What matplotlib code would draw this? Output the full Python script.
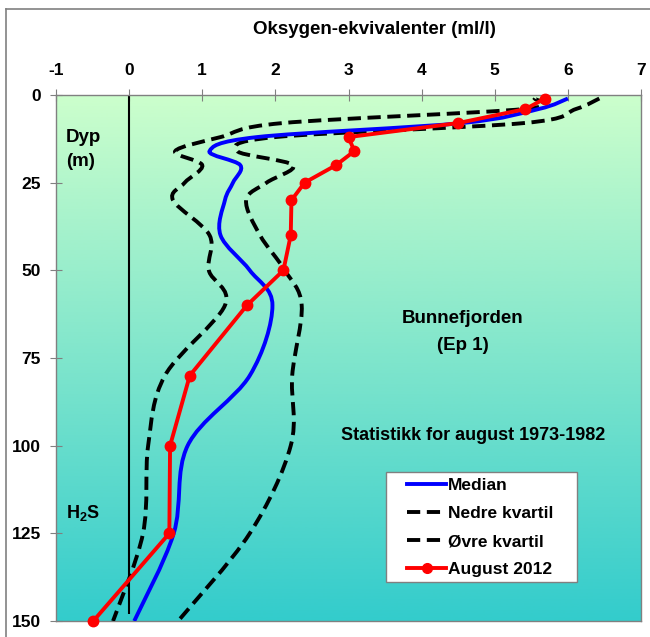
import numpy as np
import matplotlib
matplotlib.use("Agg")
import matplotlib.pyplot as plt
from matplotlib.path import Path
from matplotlib.patches import PathPatch, Rectangle
from matplotlib.lines import Line2D
from matplotlib.colors import LinearSegmentedColormap

plt.rcParams['font.family'] = ['Liberation Sans', 'DejaVu Sans']
plt.rcParams['font.weight'] = 'bold'
plt.rcParams['axes.unicode_minus'] = False
plt.rcParams['mathtext.fontset'] = 'custom'
plt.rcParams['mathtext.rm'] = 'Liberation Sans:bold'
plt.rcParams['mathtext.bf'] = 'Liberation Sans:bold'

# ---------------- data ----------------
depths = [1, 4, 8, 12, 16, 20, 25, 30, 40, 50, 60, 80, 100, 125, 150]
median = [6.00, 5.60, 4.55, 1.75, 1.10, 1.52, 1.42, 1.31, 1.25, 1.65, 1.96, 1.65, 0.80, 0.61, 0.07]
nedre_kvartil = [5.55, 5.40, 2.10, 1.25, 0.63, 1.00, 0.76, 0.60, 1.10, 1.09, 1.31, 0.49, 0.26, 0.19, -0.22]
ovre_kvartil = [6.43, 6.11, 5.40, 2.00, 1.48, 2.24, 1.88, 1.60, 1.79, 2.13, 2.36, 2.23, 2.21, 1.65, 0.67]
aug2012 = [5.69, 5.42, 4.50, 3.00, 3.08, 2.83, 2.40, 2.22, 2.21, 2.11, 1.61, 0.83, 0.56, 0.55, -0.49]

x_ticks = [-1, 0, 1, 2, 3, 4, 5, 6, 7]
y_ticks = [0, 25, 50, 75, 100, 125, 150]
legend_labels = ['Median', 'Nedre kvartil', 'Øvre kvartil', 'August 2012']
title = 'Oksygen-ekvivalenter (ml/l)'


def smooth_path(xs, ys):
    """Catmull-Rom style Bezier path through the given points (Excel-like smoothing)."""
    pts = np.column_stack([xs, ys]).astype(float)
    n = len(pts)
    verts = [pts[0]]
    codes = [Path.MOVETO]
    for i in range(n - 1):
        p0 = pts[i - 1] if i > 0 else pts[i]
        p1 = pts[i]
        p2 = pts[i + 1]
        p3 = pts[i + 2] if i + 2 < n else pts[i + 1]
        c1 = p1 + (p2 - p0) / 6.0
        c2 = p2 - (p3 - p1) / 6.0
        verts += [c1, c2, p2]
        codes += [Path.CURVE4] * 3
    return Path(verts, codes)


W, H = 650, 637
fig = plt.figure(figsize=(W / 100, H / 100), dpi=100)
ax = fig.add_axes([56 / W, 1 - 621 / H, (641 - 56) / W, (621 - 95) / H])

# gradient background
cmap = LinearSegmentedColormap.from_list('bg', ['#CCFFCC', '#33CCCC'])
grad = np.linspace(0, 1, 256).reshape(-1, 1)
ax.imshow(grad, cmap=cmap, aspect='auto', extent=(-1, 7, 150, 0), zorder=0,
          interpolation='bicubic')

ax.set_xlim(-1, 7)
ax.set_ylim(150, 0)

# zero line
ax.vlines(0, 0, 148, color='black', lw=1.5, zorder=2)

lw = 2.8
dash = (0, (3.4, 1.7))
ax.add_patch(PathPatch(smooth_path(nedre_kvartil, depths), fill=False, ec='black',
                       lw=lw, linestyle=dash, zorder=3))
ax.add_patch(PathPatch(smooth_path(ovre_kvartil, depths), fill=False, ec='black',
                       lw=lw, linestyle=dash, zorder=3))
ax.add_patch(PathPatch(smooth_path(median, depths), fill=False, ec='#0000FF',
                       lw=lw, zorder=4))
ax.plot(aug2012, depths, color='#FF0000', lw=lw, marker='o', ms=7.5, zorder=5,
        clip_on=False)

# axes styling
ax.xaxis.tick_top()
ax.set_xticks(x_ticks)
ax.set_yticks(y_ticks)
ax.tick_params(axis='both', direction='inout', length=8, width=0.8, color='#808080',
               labelsize=12.5, pad=7)
ax.tick_params(axis='x', pad=8)
for lab in ax.get_xticklabels() + ax.get_yticklabels():
    lab.set_fontweight('bold')
for s in ax.spines.values():
    s.set_color('#808080')
    s.set_linewidth(1.0)

# texts
fig.text(374 / W, 1 - 30 / H, title, ha='center', va='center', fontsize=13.5,
         fontweight='bold')
fig.text(66 / W, 1 - 137 / H, 'Dyp', ha='left', va='center', fontsize=13.5,
         fontweight='bold')
fig.text(66 / W, 1 - 161 / H, '(m)', ha='left', va='center', fontsize=13.5,
         fontweight='bold')
fig.text(66 / W, 1 - 513 / H, r'H$_{\mathbf{2}}$S', ha='left', va='center',
         fontsize=13, fontweight='bold')
fig.text(463 / W, 1 - 319 / H, 'Bunnefjorden', ha='center', va='center',
         fontsize=13.5, fontweight='bold')
fig.text(463 / W, 1 - 345 / H, '(Ep 1)', ha='center', va='center',
         fontsize=13.5, fontweight='bold')
fig.text(473 / W, 1 - 435 / H, 'Statistikk for august 1973-1982', ha='center',
         va='center', fontsize=13, fontweight='bold')

# legend box
fig.add_artist(Rectangle((386 / W, 1 - 582 / H), (577 - 386) / W, (582 - 472) / H,
                         transform=fig.transFigure, facecolor='white',
                         edgecolor='#808080', lw=1.0, zorder=9))
handles = [
    Line2D([], [], color='#0000FF', lw=lw),
    Line2D([], [], color='black', lw=lw, linestyle=dash),
    Line2D([], [], color='black', lw=lw, linestyle=dash),
    Line2D([], [], color='#FF0000', lw=lw, marker='o', ms=7),
]
leg = fig.legend(handles, legend_labels, loc='upper left',
                 bbox_to_anchor=(407 / W, 1 - 478 / H), frameon=False,
                 prop={'size': 12.5, 'weight': 'bold'}, handlelength=2.25,
                 handletextpad=0.1, labelspacing=0.74, borderpad=0,
                 borderaxespad=0, numpoints=1)
leg.set_zorder(10)

# figure border (left and top)
fig.add_artist(Line2D([6 / W, 6 / W], [0, 1 - 9 / H], color='#808080', lw=1.2,
                      transform=fig.transFigure))
fig.add_artist(Line2D([6 / W, 1], [1 - 9 / H, 1 - 9 / H], color='#808080', lw=1.2,
                      transform=fig.transFigure))

fig.savefig('out.png', dpi=100)
